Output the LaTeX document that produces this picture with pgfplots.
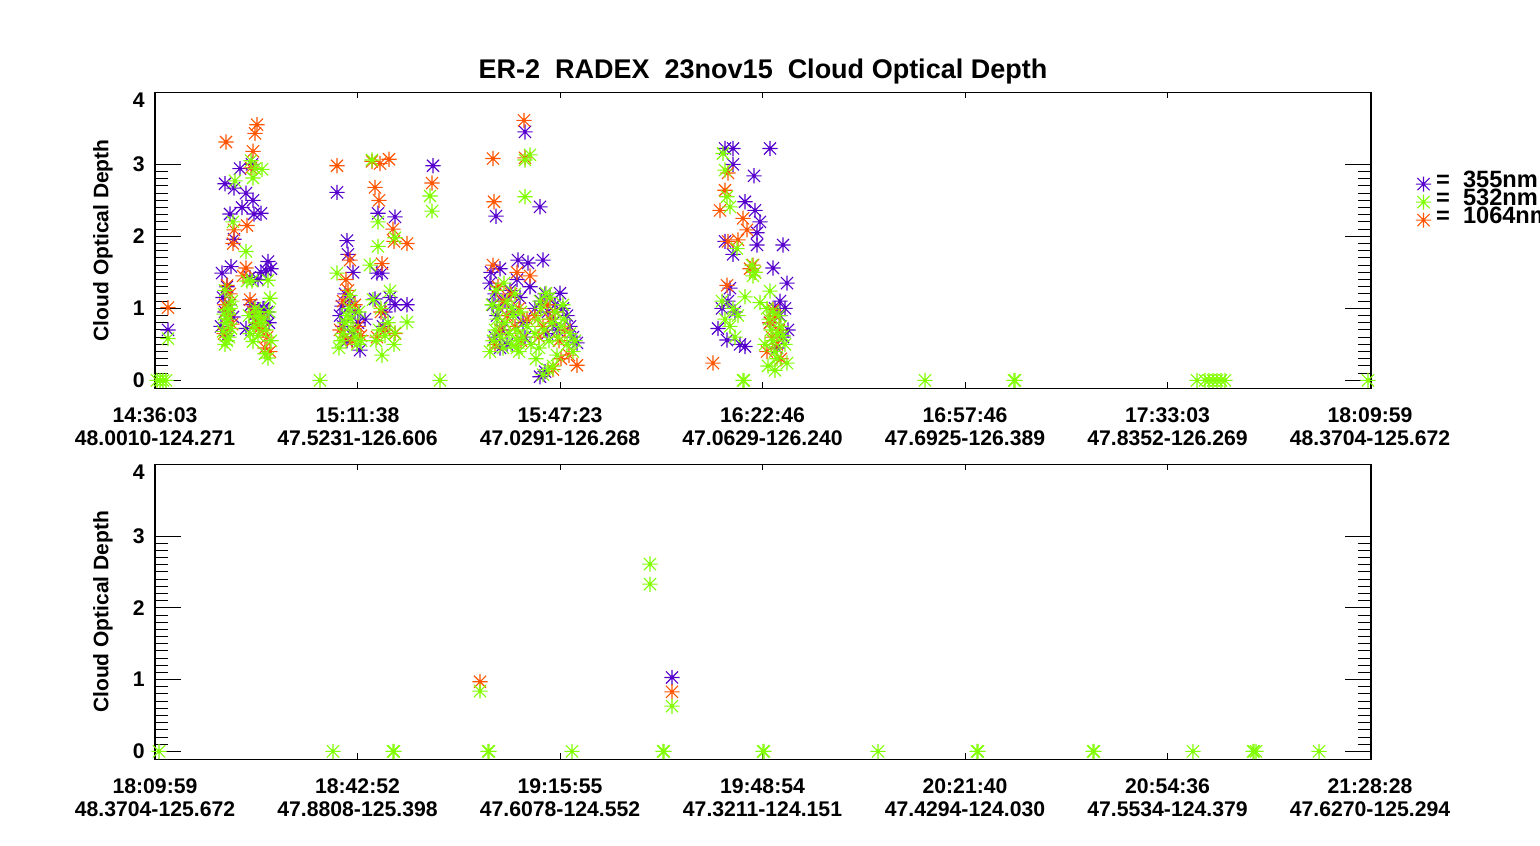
\documentclass[border=0pt]{standalone}
\usepackage{fontspec}
\setmainfont{Liberation Sans}
\usepackage{pgfplots}
\pgfplotsset{compat=1.18}
\definecolor{cpur}{HTML}{5500CC}
\definecolor{cgrn}{HTML}{80FF00}
\definecolor{corg}{HTML}{FF5500}
\pgfdeclareplotmark{ast8}{%
  \pgfpathmoveto{\pgfqpoint{-\pgfplotmarksize}{0pt}}\pgfpathlineto{\pgfqpoint{\pgfplotmarksize}{0pt}}%
  \pgfpathmoveto{\pgfqpoint{0pt}{-\pgfplotmarksize}}\pgfpathlineto{\pgfqpoint{0pt}{\pgfplotmarksize}}%
  \pgfpathmoveto{\pgfqpoint{-0.8\pgfplotmarksize}{-0.8\pgfplotmarksize}}\pgfpathlineto{\pgfqpoint{0.8\pgfplotmarksize}{0.8\pgfplotmarksize}}%
  \pgfpathmoveto{\pgfqpoint{-0.8\pgfplotmarksize}{0.8\pgfplotmarksize}}\pgfpathlineto{\pgfqpoint{0.8\pgfplotmarksize}{-0.8\pgfplotmarksize}}%
  \pgfusepathqstroke}
\pgfplotsset{
  codax/.style={
    scale only axis, width=608pt,
    xmin=0, xmax=1216, ymin=-0.11, ymax=4,
    xtick={0,202.5,405,607.5,810,1012.5,1215},
    ytick={0,1,2,3}, yticklabels={0,1,2,3},
    extra y ticks={4}, extra y tick labels={4},
    extra y tick style={yticklabel style={yshift=-4pt}},
    minor y tick num=9, minor x tick num=0,
    tick align=inside, tick pos=both,
    major tick length=13pt, minor tick length=6.5pt,
    xtick style={/pgfplots/major tick length=3pt, line width=0.5pt, black},
    ytick style={line width=0.5pt, black},
    minor tick style={line width=0.5pt, black},
    axis line style={line width=0.6pt, black},
    xticklabel style={anchor=north, align=center, inner sep=0pt, yshift=-9.5pt,
      font=\bfseries\fontsize{10.6}{11.5}\selectfont},
    yticklabel style={anchor=east, inner sep=0pt, xshift=-5pt,
      font=\bfseries\fontsize{10.6}{11.5}\selectfont},
    ylabel={Cloud Optical Depth},
    ylabel style={at={(axis description cs:-0.0428,0.5)}, anchor=center,
      font=\bfseries\fontsize{10.5}{12}\selectfont},
    mark size=3.8pt,
  },
  pur/.style={only marks, mark=ast8, color=cpur, mark options={line width=0.55pt}},
  org/.style={only marks, mark=ast8, color=corg, mark options={line width=0.55pt}},
  grn/.style={only marks, mark=ast8, color=cgrn, mark options={line width=0.55pt}},
}
\begin{document}
\begin{tikzpicture}
\useasboundingbox (0,0) rectangle (770pt,422.5pt);
\clip (0,0) rectangle (770pt,422.5pt);
% ---------------- top panel ----------------
\begin{axis}[codax, at={(77.5pt,228.35pt)}, anchor=south west, height=148pt,
  xticklabels={{14:36:03\\48.0010-124.271},{15:11:38\\47.5231-126.606},{15:47:23\\47.0291-126.268},{16:22:46\\47.0629-126.240},{16:57:46\\47.6925-126.389},{17:33:03\\47.8352-126.269},{18:09:59\\48.3704-125.672}},
  title={ER-2\ \ RADEX\ \ 23nov15\ \ Cloud Optical Depth},
  title style={at={(axis description cs:0.5,1)}, anchor=base, yshift=1pt,
    font=\bfseries\fontsize{13.5}{15}\selectfont},
  legend style={at={(axis description cs:1.0366,0.629)}, anchor=west, draw=none, fill=none,
    inner sep=0pt, row sep=0pt, column sep=2.5pt,
    font=\bfseries\fontsize{11.8}{9}\selectfont,
    nodes={inner sep=0pt, text height=6pt, text depth=3pt, font=\bfseries\fontsize{11.8}{9}\selectfont}},
  legend cell align=left,
  legend image code/.code={\draw[#1] plot coordinates {(0pt,0pt)};},
]
\addlegendimage{pur}\addlegendentry{=\ \ 355nm}
\addlegendimage{grn}\addlegendentry{=\ \ 532nm}
\addlegendimage{org}\addlegendentry{=\ \ 1064nm}
% 355 nm
\addplot[pur, forget plot] coordinates {
(13,0.70)(70,2.73)(79,2.67)(75,2.31)(79,1.96)(67,1.49)(76,1.58)(72,1.30)(68,1.15)(74,1.05)(70,0.95)(78,0.88)(66,0.75)(72,0.62)
(85,2.94)(91,2.60)(98,2.50)(87,2.40)(99,2.31)(106,2.32)(97,3.00)(91,0.72)(96,1.05)(100,0.92)(104,0.98)(108,1.00)(102,0.85)
(113,1.65)(111,1.52)(106,1.50)(116,1.55)(109,1.00)(112,0.95)(114,0.80)(103,1.40)(95,1.43)
(182,2.61)(192,1.94)(193,1.75)(198,1.50)(187,1.03)(190,1.20)(195,1.10)(200,0.95)(203,0.80)(185,0.90)(205,0.42)(198,0.65)(192,0.55)(188,0.75)(210,0.85)
(223,2.32)(240,2.27)(227,1.49)(222,1.49)(220,1.13)(240,1.05)(252,1.05)(230,0.95)(235,1.15)(228,0.75)
(278,2.98)
(341,2.28)(370,3.45)(385,2.41)(363,1.67)(373,1.63)(388,1.67)(345,1.55)(335,1.35)(340,1.20)(338,1.05)(342,0.90)(347,0.70)(350,1.10)(355,1.25)(358,0.95)
(362,1.40)(365,1.15)(368,0.80)(370,0.60)(352,0.50)(345,0.45)(340,0.60)(336,1.50)(375,1.30)(380,1.00)(386,1.10)(390,1.20)(395,1.15)(400,1.05)(405,1.21)
(408,1.00)(412,0.90)(415,0.75)(418,0.60)(422,0.52)(398,0.80)(392,0.65)(385,0.05)(390,0.12)(393,0.95)(402,0.70)
(615,3.22)(570,3.22)(578,3.22)(578,3.00)(599,2.84)(590,2.48)(600,2.36)(605,2.20)(602,2.05)(570,1.93)(628,1.88)(602,1.88)(578,1.75)(618,1.56)(632,1.35)
(575,1.28)(625,1.10)(563,0.72)(572,0.56)(590,0.47)(633,0.70)(620,1.00)(625,0.90)(615,0.80)(628,0.60)(622,0.45)(630,1.00)(567,1.00)(573,1.10)(580,0.95)(585,0.50)
};
% 1064 nm
\addplot[org, forget plot] coordinates {
(13,1.01)(71,3.31)(79,2.09)(78,1.90)(72,1.32)(75,1.20)(70,1.05)(73,0.90)(77,0.78)(69,0.65)(102,3.55)(100,3.43)(98,3.18)(96,2.95)(92,2.15)(91,1.56)(95,1.12)
(98,0.95)(101,0.80)(104,0.72)(108,0.70)(110,0.45)(112,0.60)(106,0.88)(115,0.40)(88,1.45)
(182,2.98)(195,1.67)(191,1.40)(193,1.25)(188,1.10)(200,1.05)(185,0.70)(190,0.60)(197,0.55)(203,0.75)(206,0.62)
(225,3.01)(234,3.07)(220,2.68)(224,2.50)(238,2.10)(239,1.93)(252,1.90)(227,1.62)(226,0.95)(230,0.70)(240,0.65)(222,0.60)(217,3.04)
(277,2.74)
(338,3.08)(370,3.09)(369,3.61)(339,2.48)(338,1.60)(362,1.50)(375,1.45)(343,1.30)(348,1.10)(352,0.90)(356,1.20)(360,0.75)(364,1.00)(366,0.55)(372,0.85)
(345,0.70)(340,0.50)(380,0.90)(384,0.60)(388,0.75)(395,0.85)(400,0.95)(404,0.55)(410,0.70)(414,0.35)(422,0.21)(398,0.15)(406,0.30)(392,1.05)
(573,2.88)(570,2.64)(565,2.36)(588,2.25)(592,2.09)(573,1.93)(583,1.95)(598,1.60)(572,1.32)(618,0.98)(620,0.90)(615,0.80)(624,0.70)(617,0.60)(622,0.50)
(558,0.24)(612,0.40)(626,0.30)(600,1.50)(595,1.55)
};
% 532 nm
\addplot[grn, forget plot] coordinates {
(2,0)(5,0)(8,0)(11,0)(165,0)(285,0)
(13,0.58)(80,2.77)(78,2.20)(70,0.50)(72,0.55)(74,0.60)(68,0.68)(76,0.72)(71,0.80)(73,0.85)(69,0.92)(75,1.00)(77,1.10)(70,1.25)(73,0.98)
(100,2.94)(107,2.93)(98,2.81)(96,3.05)(91,1.79)(92,1.38)(97,1.38)(98,0.54)(95,0.65)(99,0.75)(102,0.88)(104,0.95)(100,1.00)(106,0.80)
(110,0.37)(113,0.31)(115,1.14)(113,1.39)(111,0.70)(109,0.85)(114,0.95)(116,0.55)(94,0.90)(103,0.62)
(182,1.49)(186,0.55)(188,0.65)(190,0.80)(192,0.90)(194,1.00)(196,0.85)(198,0.70)(200,0.60)(202,0.50)(204,0.95)(184,0.45)(195,1.18)(206,0.55)
(217,3.06)(223,2.20)(240,1.98)(223,1.86)(215,1.60)(235,1.24)(218,1.12)(252,0.81)(240,0.66)(239,0.50)(227,0.35)(224,0.70)(230,0.62)(233,0.80)(226,1.00)(221,0.55)
(275,2.56)(277,2.35)
(375,3.13)(370,3.06)(370,2.55)(335,0.40)(338,0.55)(340,0.70)(342,0.85)(344,1.00)(346,0.60)(348,0.45)(350,0.80)(352,1.10)(354,0.65)(356,0.50)(358,0.90)
(360,1.20)(362,0.70)(364,0.40)(366,0.95)(368,0.60)(337,1.05)(341,1.25)(349,1.35)(357,1.00)(363,0.55)(372,0.75)(376,0.50)(380,0.65)(383,0.85)(386,1.00)
(389,0.70)(391,1.21)(394,0.55)(397,0.80)(400,0.95)(403,0.60)(406,0.75)(409,0.85)(412,0.50)(415,0.65)(418,0.40)(420,0.55)(385,1.10)(395,1.15)(388,0.08)
(393,0.15)(398,0.20)(402,0.35)(384,0.45)(408,1.05)(381,0.30)(362,0.45)
(568,3.15)(570,2.92)(572,2.55)(575,2.41)(582,1.83)(597,1.60)(600,1.50)(598,1.45)(590,1.16)(615,1.24)(605,1.08)(567,1.10)(575,0.75)(580,0.60)(570,0.85)
(578,1.00)(612,1.00)(614,0.85)(616,0.70)(618,0.55)(620,0.40)(622,0.30)(620,0.14)(632,0.24)(624,0.90)(626,0.75)(628,0.62)(630,0.50)(618,0.95)(623,0.65)
(610,0.50)(613,0.20)(588,0)(589,0)(583,0.90)
(770,0)(859,0)(860,0)(1042,0)(1050,0)(1054,0)(1058,0)(1062,0)(1066,0)(1070,0)(1213,0)
};
\end{axis}
% ---------------- bottom panel ----------------
\begin{axis}[codax, at={(77.5pt,42.85pt)}, anchor=south west, height=147.5pt,
  xticklabels={{18:09:59\\48.3704-125.672},{18:42:52\\47.8808-125.398},{19:15:55\\47.6078-124.552},{19:48:54\\47.3211-124.151},{20:21:40\\47.4294-124.030},{20:54:36\\47.5534-124.379},{21:28:28\\47.6270-125.294}},
]
\addplot[pur] coordinates {(517,1.03)};
\addplot[org] coordinates {(325,0.97)(517,0.83)};
\addplot[grn] coordinates {
(4,0)(178,0)(238,0)(239,0)(333,0)(334,0)(417,0)(508,0)(509,0)(608,0)(609,0)(723,0)(822,0)(823,0)(938,0)(939,0)(1038,0)(1098,0)(1099,0)(1101,0)(1164,0)
(325,0.84)(495,2.61)(495,2.33)(517,0.63)
};
\end{axis}
\end{tikzpicture}
\end{document}
